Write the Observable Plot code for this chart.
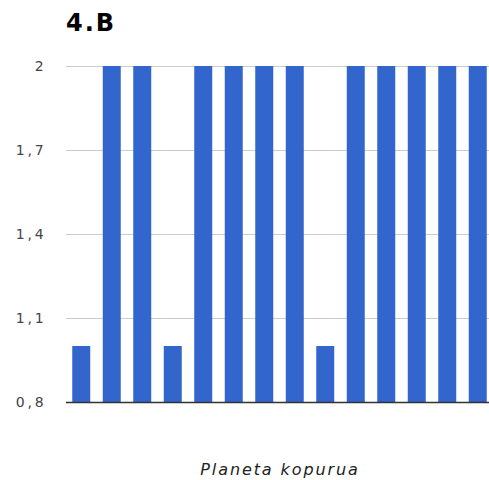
<!DOCTYPE html>
<html>
<head>
<meta charset="utf-8">
<script src="https://cdn.jsdelivr.net/npm/d3@7"></script>
<script src="https://cdn.jsdelivr.net/npm/@observablehq/plot@0.6"></script>
<style>
  html, body { margin: 0; padding: 0; background: #fff; }
  #wrap { width: 489px; height: 480px; overflow: hidden; position: relative; }
  #title { height: 40px; position: relative; }
  #title span { position: absolute; left: 66px; top: 11px; font: bold 24px/24px "DejaVu Sans", sans-serif; letter-spacing: 2px; color: #000; }
  g[aria-label="y-axis tick label"] text { letter-spacing: 2.8px; }
  g[aria-label="text"] text { letter-spacing: 1.9px; }
</style>
</head>
<body>
<div id="wrap">
  <div id="title"><span>4.B</span></div>
  <div id="chart"></div>
</div>
<script>
const titleText = "4.B";
const xLabel = "Planeta kopurua";
const planets = ["1","2","3","4","5","6","7","8","9","10","11","12","13","14"];
const values = [1, 2, 2, 1, 2, 2, 2, 2, 1, 2, 2, 2, 2, 2];
const yTicks = [0.8, 1.1, 1.4, 1.7, 2];
const yMin = 0.8;
const yMax = 2;

document.querySelector("#title span").textContent = titleText;
const data = planets.map((p, i) => ({planet: p, value: values[i]}));

const chart = Plot.plot({
  width: 489,
  height: 440,
  marginTop: 26,
  marginBottom: 78,
  marginLeft: 66,
  marginRight: 0,
  style: {fontFamily: "DejaVu Sans, sans-serif", background: "#fff", overflow: "visible"},
  x: {domain: planets, paddingInner: 0.41, paddingOuter: 0.205, insetRight: -4, round: false, axis: null},
  y: {domain: [yMin, yMax], axis: null},
  marks: [
    Plot.gridY(yTicks, {stroke: "#cccccc", strokeOpacity: 1, strokeWidth: 1}),
    Plot.barY(data, {x: "planet", y: "value", fill: "#3366cc", clip: true}),
    Plot.ruleY([yMin], {stroke: "#333333", strokeWidth: 1.5}),
    Plot.axisY(yTicks, {
      label: null,
      tickSize: 0,
      tickPadding: 20,
      fontSize: 14,
      fill: "#444444",
      tickFormat: d => String(d).replace(".", ",")
    }),
    Plot.text([xLabel], {
      frameAnchor: "bottom",
      lineAnchor: "bottom",
      dy: 72,
      dx: 2,
      fontSize: 16,
      fontStyle: "italic",
      fill: "#222222"
    })
  ]
});
document.getElementById("chart").appendChild(chart);
</script>
</body>
</html>
